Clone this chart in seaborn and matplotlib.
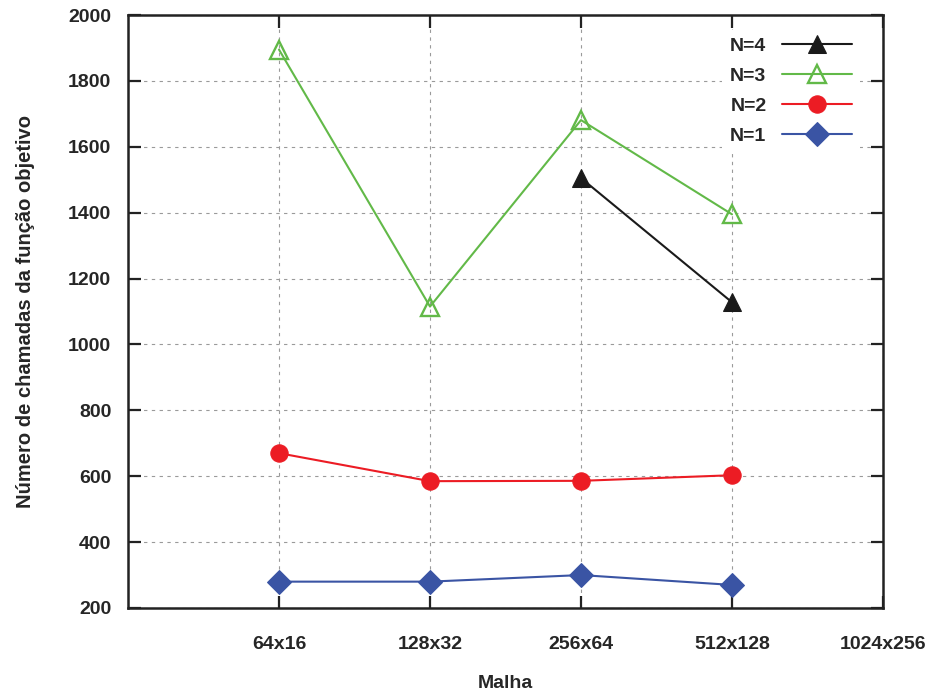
import matplotlib
matplotlib.use("Agg")
import matplotlib.pyplot as plt
import seaborn as sns
import pandas as pd

# ---- data ----
categories = ["64x16", "128x32", "256x64", "512x128", "1024x256"]
n1_cats = ["64x16", "128x32", "256x64", "512x128"]
n1_vals = [280, 280, 300, 270]
n2_cats = ["64x16", "128x32", "256x64", "512x128"]
n2_vals = [670, 585, 586, 603]
n3_cats = ["64x16", "128x32", "256x64", "512x128"]
n3_vals = [1895, 1115, 1681, 1395]
n4_cats = ["256x64", "512x128"]
n4_vals = [1505, 1128]
y_ticks = [200, 400, 600, 800, 1000, 1200, 1400, 1600, 1800, 2000]

sns.set_theme(style="white")
plt.rcParams['font.family'] = ['Liberation Sans', 'DejaVu Sans']

fig = plt.figure(figsize=(9.33, 6.95), dpi=100)
ax = fig.add_axes([128/933, 1-608/695, (883-128)/933, (608-15)/695])

pos = {c: i + 1 for i, c in enumerate(categories)}

series = [
    ("N=4", n4_cats, n4_vals, dict(color="#1a1a1a", marker="^", markersize=13,
                                   markerfacecolor="#1a1a1a", markeredgecolor="#1a1a1a")),
    ("N=3", n3_cats, n3_vals, dict(color="#62b948", marker="^", markersize=13,
                                   markerfacecolor="none", markeredgecolor="#62b948",
                                   markeredgewidth=1.7)),
    ("N=2", n2_cats, n2_vals, dict(color="#ec1c24", marker="o", markersize=12.5,
                                   markerfacecolor="#ec1c24", markeredgecolor="#ec1c24")),
    ("N=1", n1_cats, n1_vals, dict(color="#3a54a4", marker="D", markersize=12,
                                   markerfacecolor="#3a54a4", markeredgecolor="#3a54a4")),
]

for label, cats, vals, st in series:
    df = pd.DataFrame({"x": [pos[c] for c in cats], "y": vals})
    sns.lineplot(data=df, x="x", y="y", ax=ax, label=label, linewidth=1.5,
                 clip_on=False, zorder=3, **st)

ax.set_xlim(0, 5)
ax.set_ylim(200, 2000)
ax.set_xticks(range(1, len(categories) + 1))
ax.set_xticklabels(categories, fontsize=14, fontweight="bold")
ax.set_yticks(y_ticks)
ax.set_yticklabels([str(v) for v in y_ticks], fontsize=14, fontweight="bold")

ax.grid(True, color="#9a9a9a", linestyle=(0, (3, 4)), linewidth=0.8)
for s in ["left", "bottom", "top", "right"]:
    ax.spines[s].set_visible(True)
    ax.spines[s].set_color("#222222")
    ax.spines[s].set_linewidth(1.8)
    ax.spines[s].set_zorder(5)

ax.tick_params(axis="both", direction="in", length=9, width=1.6, color="#222222",
               top=True, right=True, bottom=True, left=True)
ax.tick_params(axis="x", pad=20)
ax.tick_params(axis="y", pad=12)

ax.set_xlabel("Malha", fontsize=14, fontweight="bold", labelpad=16)
ax.set_ylabel("Número de chamadas da função objetivo", fontsize=14.5,
              fontweight="bold", labelpad=24)

handles, labels = ax.get_legend_handles_labels()
leg = ax.legend(handles, labels, loc="upper right", markerfirst=False, frameon=True,
                facecolor="white", edgecolor="none", framealpha=1.0, fancybox=False,
                prop={"weight": "bold", "size": 14}, handlelength=3.6,
                labelspacing=0.63, borderaxespad=0.3, bbox_to_anchor=(0.977, 0.985))
leg.set_zorder(4)

fig.savefig("out.png", dpi=100)
